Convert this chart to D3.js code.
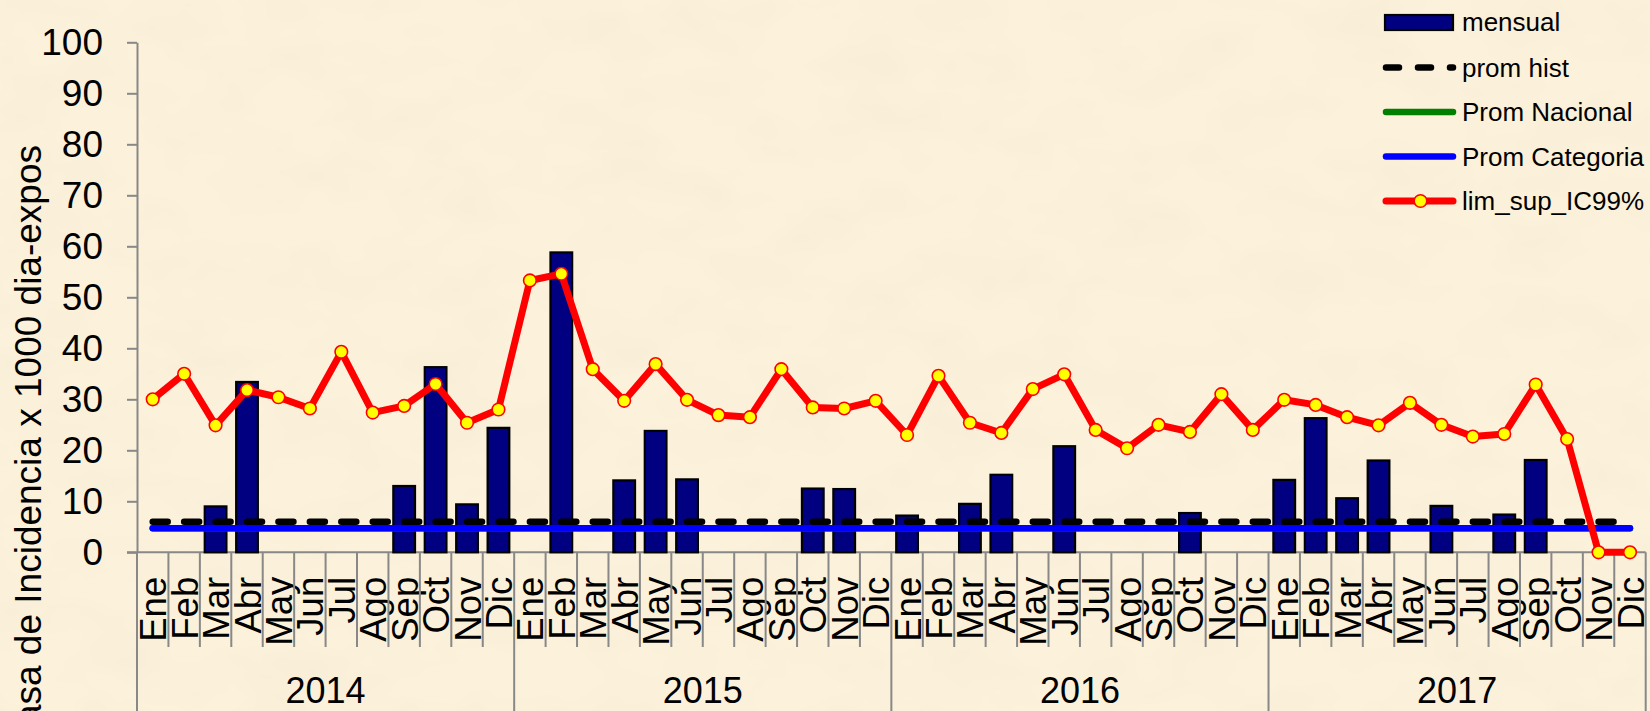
<!DOCTYPE html>
<html>
<head>
<meta charset="utf-8">
<script src="https://cdn.jsdelivr.net/npm/d3@7/dist/d3.min.js"></script>
<style>
  html, body { margin: 0; padding: 0; background: #FAEED5; }
  svg { display: block; }
  text { font-family: "Liberation Sans", Arial, sans-serif; fill: #000; }
</style>
</head>
<body>
<svg id="chart" width="1650" height="711"></svg>
<script>
// ---- data ----
const years = ["2014", "2015", "2016", "2017"];
const months = ["Ene","Feb","Mar","Abr","May","Jun","Jul","Ago","Sep","Oct","Nov","Dic"];
const yTicks = [0,10,20,30,40,50,60,70,80,90,100];

const mensual = [
  0, 0, 9.0, 33.4, 0, 0, 0, 0, 13.0, 36.3, 9.4, 24.4,
  0, 58.8, 0, 14.1, 23.8, 14.3, 0, 0, 0, 12.5, 12.4, 0,
  7.2, 0, 9.5, 15.2, 0, 20.8, 0, 0, 0, 7.7, 0, 0,
  14.2, 26.3, 10.6, 18.0, 0, 9.1, 0, 7.4, 18.1, 0, 0, 0
];
const limSup = [
  30.0, 35.0, 24.9, 31.8, 30.4, 28.2, 39.3, 27.4, 28.7, 33.0, 25.4, 28.0,
  53.3, 54.6, 35.9, 29.7, 36.9, 29.9, 26.9, 26.5, 35.9, 28.4, 28.2, 29.7,
  23.0, 34.6, 25.4, 23.4, 32.0, 34.9, 24.0, 20.4, 25.0, 23.6, 31.0, 24.0,
  29.9, 28.9, 26.5, 24.9, 29.3, 25.0, 22.7, 23.2, 32.9, 22.2, 0, 0
];
const promHist = new Array(48).fill(6.0);
const promNacional = new Array(48).fill(4.7);
const promCategoria = new Array(48).fill(4.7);

const legendItems = ["mensual", "prom hist", "Prom Nacional", "Prom Categoria", "lim_sup_IC99%"];

// ---- layout ----
const svg = d3.select("#chart");
const W = 1650, H = 711;
const pL = 137, pR = 1645.7, pT = 42.3, pB = 552.3;

// background with paper-like mottling
const defs = svg.append("defs");
const f = defs.append("filter").attr("id", "paper").attr("x", 0).attr("y", 0).attr("width", 1).attr("height", 1);
f.append("feTurbulence").attr("type", "fractalNoise").attr("baseFrequency", "0.012 0.02").attr("numOctaves", 3).attr("seed", 7);
f.append("feColorMatrix").attr("type", "matrix")
  .attr("values", "0 0 0 0 0.92  0 0 0 0 0.84  0 0 0 0 0.68  1.1 0 0 0 -0.42");
svg.append("rect").attr("width", W).attr("height", H).attr("fill", "#FCF1DA");
svg.append("rect").attr("width", W).attr("height", H).attr("filter", "url(#paper)");

const idx = d3.range(48);
const x = d3.scaleBand().domain(idx).range([pL, pR]).padding(0);
const xYear = d3.scaleBand().domain(years).range([pL, pR]).padding(0);
const y = d3.scaleLinear().domain([0, 100]).range([pB, pT]);
const cx = i => x(i) + x.bandwidth() / 2;
const axisColor = "#888888";
const FONT = '"Liberation Sans", Arial, sans-serif';

// y axis
const gy = svg.append("g").attr("transform", `translate(${pL},0)`)
  .call(d3.axisLeft(y).tickValues(yTicks).tickSize(10).tickPadding(24).tickSizeOuter(0));
gy.select(".domain").attr("stroke", axisColor).attr("stroke-width", 2);
gy.selectAll(".tick line").attr("stroke", axisColor).attr("stroke-width", 2);
gy.selectAll(".tick text").style("font-size", "37px").style("font-family", FONT).attr("fill", "#000");

// category axis (month labels)
const gx = svg.append("g").attr("transform", `translate(0,${pB})`)
  .call(d3.axisBottom(x).tickSize(0).tickSizeOuter(0).tickFormat(i => months[i % 12]));
gx.select(".domain").remove();
gx.selectAll(".tick text")
  .attr("transform", "rotate(-90)")
  .attr("text-anchor", "end")
  .attr("x", -24.5).attr("y", 0).attr("dy", "0.37em")
  .style("font-size", "36.5px").style("font-family", FONT).attr("fill", "#000");

// horizontal axis line
svg.append("line").attr("x1", pL - 10).attr("x2", pR).attr("y1", pB).attr("y2", pB)
  .attr("stroke", axisColor).attr("stroke-width", 2);
// left axis continues down
svg.append("line").attr("x1", pL).attr("x2", pL).attr("y1", pB).attr("y2", H)
  .attr("stroke", axisColor).attr("stroke-width", 2);
// month separators
svg.append("g").selectAll("line").data(d3.range(1, 49)).join("line")
  .attr("x1", i => i < 48 ? x(i) : pR).attr("x2", i => i < 48 ? x(i) : pR)
  .attr("y1", pB).attr("y2", i => (i % 12 === 0) ? H : 647)
  .attr("stroke", axisColor).attr("stroke-width", 2);

// year labels
svg.append("g").selectAll("text").data(years).join("text")
  .attr("x", d => xYear(d) + xYear.bandwidth() / 2).attr("y", 703)
  .attr("text-anchor", "middle").style("font-size", "36px").text(d => d);

// y-axis title
svg.append("text").attr("transform", "translate(40.5,145) rotate(-90)")
  .attr("text-anchor", "end").style("font-size", "37px")
  .text("Tasa de Incidencia x 1000 dia-expos");

// bars
const bw = x.bandwidth() * 0.69;
svg.append("g").selectAll("rect").data(mensual.map((v, i) => ({v, i})).filter(d => d.v > 0)).join("rect")
  .attr("x", d => cx(d.i) - bw / 2).attr("width", bw)
  .attr("y", d => y(d.v)).attr("height", d => y(0) - y(d.v))
  .attr("fill", "#000080").attr("stroke", "#000").attr("stroke-width", 2.2);

// lines
const line = d3.line().x((d, i) => cx(i)).y(d => y(d));
svg.append("path").datum(promHist).attr("d", line).attr("fill", "none")
  .attr("stroke", "#000").attr("stroke-width", 6.5).attr("stroke-linecap", "round")
  .attr("stroke-dasharray", `15 ${x.bandwidth() - 15}`);
svg.append("path").datum(promNacional).attr("d", line).attr("fill", "none")
  .attr("stroke", "#008000").attr("stroke-width", 6.5).attr("stroke-linecap", "round");
svg.append("path").datum(promCategoria).attr("d", line).attr("fill", "none")
  .attr("stroke", "#0000FF").attr("stroke-width", 6.5).attr("stroke-linecap", "round");
svg.append("path").datum(limSup).attr("d", line).attr("fill", "none")
  .attr("stroke", "#FF0000").attr("stroke-width", 7).attr("stroke-linejoin", "round");
svg.append("g").selectAll("circle").data(limSup).join("circle")
  .attr("cx", (d, i) => cx(i)).attr("cy", d => y(d)).attr("r", 6.3)
  .attr("fill", "#FFFF00").attr("stroke", "#FF0000").attr("stroke-width", 1.6);

// legend
const lg = svg.append("g");
const rowY = [22, 67.5, 112, 156.5, 201];
const sx1 = 1386, sx2 = 1453, tx = 1462;
lg.append("rect").attr("x", 1385).attr("y", 15).attr("width", 68).attr("height", 15)
  .attr("fill", "#000080").attr("stroke", "#000").attr("stroke-width", 2.2);
lg.append("line").attr("x1", sx1).attr("x2", sx2).attr("y1", rowY[1]).attr("y2", rowY[1])
  .attr("stroke", "#000").attr("stroke-width", 6.5).attr("stroke-linecap", "round").attr("stroke-dasharray", "13 19");
lg.append("line").attr("x1", sx1).attr("x2", sx2).attr("y1", rowY[2]).attr("y2", rowY[2])
  .attr("stroke", "#008000").attr("stroke-width", 6.5).attr("stroke-linecap", "round");
lg.append("line").attr("x1", sx1).attr("x2", sx2).attr("y1", rowY[3]).attr("y2", rowY[3])
  .attr("stroke", "#0000FF").attr("stroke-width", 6.5).attr("stroke-linecap", "round");
lg.append("line").attr("x1", sx1).attr("x2", sx2).attr("y1", rowY[4]).attr("y2", rowY[4])
  .attr("stroke", "#FF0000").attr("stroke-width", 7).attr("stroke-linecap", "round");
lg.append("circle").attr("cx", (sx1 + sx2) / 2 + 1).attr("cy", rowY[4]).attr("r", 6.3)
  .attr("fill", "#FFFF00").attr("stroke", "#FF0000").attr("stroke-width", 1.6);
lg.selectAll("text").data(legendItems).join("text")
  .attr("x", tx).attr("y", (d, i) => rowY[i]).attr("dy", "0.35em")
  .style("font-size", "26px").text(d => d);
</script>
</body>
</html>
